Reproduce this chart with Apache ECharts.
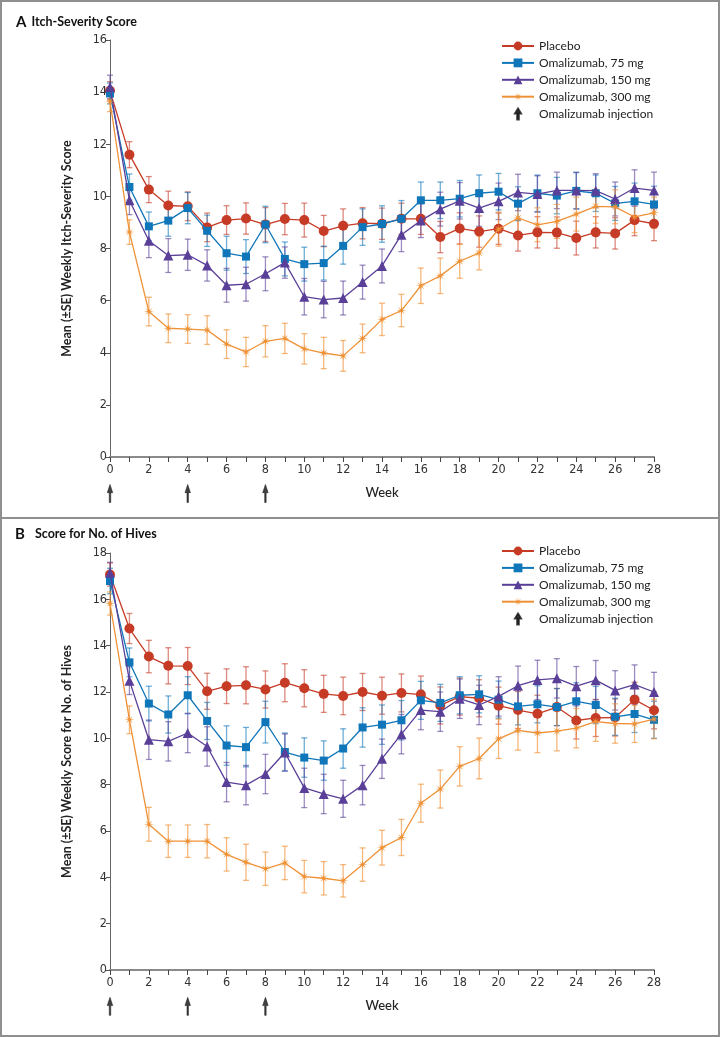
<!doctype html>
<html lang="en">
<head>
<meta charset="UTF-8">
<title>Omalizumab weekly scores</title>
<script src="https://cdn.jsdelivr.net/npm/echarts@6/dist/echarts.min.js"></script>
<style>
  html, body { margin: 0; padding: 0; background: #fff; }
  #main { width: 720px; height: 1037px; }
</style>
</head>
<body>
<div id="main"></div>
<script type="text/javascript">
// weeks 0..28
var weeks = [0, 1, 2, 3, 4, 5, 6, 7, 8, 9, 10, 11, 12, 13, 14, 15, 16, 17, 18, 19, 20, 21, 22, 23, 24, 25, 26, 27, 28];
var injectionWeeks = [0, 4, 8];
var seriesNames = ['Placebo', 'Omalizumab, 75 mg', 'Omalizumab, 150 mg', 'Omalizumab, 300 mg'];

// A  Itch-Severity Score (mean, SE)
var itchPlacebo = [14.05, 11.6, 10.26, 9.65, 9.62, 8.81, 9.09, 9.15, 8.92, 9.13, 9.09, 8.67, 8.87, 8.97, 8.95, 9.14, 9.14, 8.44, 8.77, 8.65, 8.76, 8.50, 8.62, 8.61, 8.40, 8.62, 8.58, 9.09, 8.95];
var itch75 = [13.95, 10.36, 8.85, 9.07, 9.55, 8.68, 7.82, 7.69, 8.92, 7.60, 7.40, 7.44, 8.10, 8.82, 8.94, 9.14, 9.85, 9.85, 9.91, 10.12, 10.18, 9.72, 10.12, 10.03, 10.21, 10.12, 9.73, 9.81, 9.69];
var itch150 = [14.2, 9.85, 8.30, 7.73, 7.76, 7.35, 6.59, 6.63, 7.03, 7.46, 6.15, 6.04, 6.10, 6.71, 7.33, 8.53, 9.07, 9.51, 9.83, 9.55, 9.81, 10.15, 10.09, 10.23, 10.23, 10.22, 9.90, 10.32, 10.23];
var itch300 = [13.65, 8.63, 5.58, 4.94, 4.91, 4.87, 4.33, 4.03, 4.44, 4.55, 4.15, 3.99, 3.88, 4.55, 5.28, 5.62, 6.57, 6.95, 7.51, 7.83, 8.74, 9.17, 8.91, 9.04, 9.32, 9.62, 9.60, 9.21, 9.37];
var itchPlaceboSE = [0.35, 0.5, 0.5, 0.55, 0.55, 0.55, 0.55, 0.6, 0.65, 0.6, 0.65, 0.6, 0.65, 0.6, 0.6, 0.6, 0.6, 0.6, 0.6, 0.6, 0.6, 0.6, 0.6, 0.6, 0.65, 0.6, 0.6, 0.6, 0.65];
var itch75SE = [0.4, 0.5, 0.55, 0.6, 0.6, 0.6, 0.65, 0.65, 0.7, 0.65, 0.65, 0.65, 0.7, 0.7, 0.7, 0.7, 0.7, 0.7, 0.7, 0.7, 0.7, 0.65, 0.7, 0.7, 0.7, 0.7, 0.65, 0.7, 0.7];
var itch150SE = [0.45, 0.55, 0.65, 0.65, 0.6, 0.6, 0.65, 0.65, 0.65, 0.6, 0.7, 0.7, 0.65, 0.65, 0.65, 0.65, 0.65, 0.65, 0.7, 0.7, 0.7, 0.7, 0.7, 0.7, 0.7, 0.65, 0.65, 0.7, 0.7];
var itch300SE = [0.4, 0.47, 0.55, 0.55, 0.55, 0.55, 0.55, 0.56, 0.6, 0.58, 0.58, 0.6, 0.59, 0.55, 0.62, 0.62, 0.68, 0.68, 0.65, 0.65, 0.65, 0.65, 0.65, 0.65, 0.65, 0.65, 0.65, 0.6, 0.6];

// B  Score for No. of Hives (mean, SE)
var hivesPlacebo = [17.07, 14.74, 13.53, 13.13, 13.12, 12.03, 12.25, 12.29, 12.11, 12.40, 12.16, 11.92, 11.83, 12.0, 11.84, 11.96, 11.89, 11.42, 11.80, 11.73, 11.41, 11.22, 11.06, 11.35, 10.77, 10.88, 10.90, 11.67, 11.21];
var hives75 = [16.79, 13.28, 11.50, 11.03, 11.86, 10.75, 9.69, 9.62, 10.70, 9.41, 9.17, 9.04, 9.56, 10.47, 10.59, 10.78, 11.64, 11.53, 11.86, 11.90, 11.67, 11.38, 11.47, 11.35, 11.60, 11.44, 10.93, 11.05, 10.80];
var hives150 = [17.15, 12.49, 9.94, 9.87, 10.23, 9.65, 8.11, 7.98, 8.46, 9.39, 7.86, 7.60, 7.39, 7.98, 9.12, 10.18, 11.22, 11.15, 11.71, 11.44, 11.81, 12.27, 12.52, 12.59, 12.25, 12.51, 12.07, 12.32, 12.00];
var hives300 = [15.82, 10.80, 6.29, 5.56, 5.56, 5.56, 4.99, 4.65, 4.37, 4.62, 4.03, 3.96, 3.85, 4.55, 5.28, 5.72, 7.20, 7.81, 8.79, 9.13, 9.98, 10.34, 10.23, 10.31, 10.44, 10.72, 10.64, 10.62, 10.83];
var hivesPlaceboSE = [0.5, 0.65, 0.7, 0.78, 0.8, 0.78, 0.75, 0.8, 0.8, 0.82, 0.8, 0.8, 0.81, 0.8, 0.8, 0.82, 0.8, 0.8, 0.8, 0.8, 0.8, 0.8, 0.8, 0.8, 0.8, 0.8, 0.8, 0.75, 0.8];
var hives75SE = [0.55, 0.62, 0.75, 0.8, 0.8, 0.8, 0.85, 0.85, 0.9, 0.82, 0.85, 0.85, 0.85, 0.85, 0.85, 0.85, 0.82, 0.8, 0.8, 0.8, 0.8, 0.8, 0.8, 0.8, 0.8, 0.8, 0.8, 0.8, 0.8];
var hives150SE = [0.45, 0.6, 0.85, 0.85, 0.85, 0.85, 0.85, 0.85, 0.85, 0.8, 0.85, 0.85, 0.8, 0.85, 0.85, 0.85, 0.85, 0.85, 0.85, 0.85, 0.85, 0.85, 0.85, 0.85, 0.85, 0.85, 0.85, 0.85, 0.85];
var hives300SE = [0.5, 0.6, 0.73, 0.7, 0.7, 0.72, 0.72, 0.78, 0.72, 0.72, 0.7, 0.72, 0.7, 0.72, 0.75, 0.78, 0.82, 0.82, 0.85, 0.88, 0.85, 0.85, 0.85, 0.85, 0.85, 0.85, 0.85, 0.8, 0.85];

var colors = ['#c63b26', '#0f76ba', '#5a3f98', '#ef9237'];
var barColors = ['rgba(198,59,38,0.6)', 'rgba(15,118,186,0.6)', 'rgba(90,63,152,0.6)', 'rgba(239,146,55,0.65)'];

// asterisk marker
function starPath() {
    var p = 'path://';
    for (var i = 0; i < 16; i++) {
        var r = (i % 2 == 0) ? 10 : 2.6;
        var a = Math.PI / 8 * i - Math.PI / 2;
        p += (i == 0 ? 'M' : 'L') + (10 + r * Math.cos(a)).toFixed(2) + ',' + (10 + r * Math.sin(a)).toFixed(2) + ' ';
    }
    return p + 'Z';
}
var arrowPath = 'path://M6,0 L12,10 L7.6,10 L7.6,22 L4.4,22 L4.4,10 L0,10 Z';
var symbols = ['circle', 'rect', 'triangle', starPath()];
var symbolSizes = [10, 8, 10, 10];

var font = "'Lato', 'Open Sans', sans-serif";
var tickFont = "'Liberation Sans Narrow', 'DejaVu Sans Condensed', 'Roboto Condensed', sans-serif";

function errRender(gridColor) {
    return function (params, api) {
        var x = api.value(0), lo = api.value(1), hi = api.value(2);
        var p1 = api.coord([x, lo]), p2 = api.coord([x, hi]);
        var w = 3;
        var st = { stroke: gridColor, lineWidth: 1.3 };
        return {
            type: 'group',
            children: [
                { type: 'line', shape: { x1: p1[0], y1: p1[1], x2: p2[0], y2: p2[1] }, style: st },
                { type: 'line', shape: { x1: p1[0] - w, y1: p1[1], x2: p1[0] + w, y2: p1[1] }, style: st },
                { type: 'line', shape: { x1: p2[0] - w, y1: p2[1], x2: p2[0] + w, y2: p2[1] }, style: st }
            ]
        };
    };
}

function panelSeries(idx, means, ses) {
    var out = [];
    for (var s = 0; s < means.length; s++) {
        var errData = [];
        for (var i = 0; i < weeks.length; i++) {
            errData.push([weeks[i], means[s][i] - ses[s][i], means[s][i] + ses[s][i]]);
        }
        out.push({
            type: 'custom',
            xAxisIndex: idx, yAxisIndex: idx,
            renderItem: errRender(barColors[s]),
            data: errData,
            z: 1,
            silent: true
        });
    }
    for (var s = 0; s < means.length; s++) {
        var lineData = [];
        for (var i = 0; i < weeks.length; i++) lineData.push([weeks[i], means[s][i]]);
        out.push({
            name: seriesNames[s],
            type: 'line',
            xAxisIndex: idx, yAxisIndex: idx,
            data: lineData,
            symbol: symbols[s],
            symbolSize: symbolSizes[s],
            showAllSymbol: true,
            color: colors[s],
            lineStyle: { color: colors[s], width: 1.3 },
            itemStyle: { color: colors[s], borderWidth: 0 },
            z: 3 + s,
            animation: false
        });
    }
    return out;
}

function arrowSeries(idx, yPos) {
    var d = [];
    for (var i = 0; i < injectionWeeks.length; i++) d.push([injectionWeeks[i], yPos]);
    return {
        name: 'Omalizumab injection',
        type: 'scatter',
        xAxisIndex: idx, yAxisIndex: idx,
        data: d,
        symbol: arrowPath,
        symbolSize: [10, 18],
        symbolKeepAspect: true,
        clip: false,
        color: '#111',
        itemStyle: { color: '#111', borderColor: '#111', borderWidth: 0.6 },
        silent: true
    };
}

function xAxisOpt(idx) {
    return {
        type: 'value', gridIndex: idx, min: 0, max: 28, interval: 2,
        name: 'Week', nameLocation: 'middle', nameGap: 29,
        nameTextStyle: { fontFamily: font, fontSize: 13, color: '#222', fontWeight: 500 },
        axisLine: { lineStyle: { color: '#8a8a8a', width: 2 } },
        axisTick: { length: 5, lineStyle: { color: '#444', width: 1 } },
        minorTick: { show: true, splitNumber: 2, length: 5, lineStyle: { color: '#444', width: 1 } },
        axisLabel: { fontFamily: tickFont, fontSize: 12.5, color: '#333', margin: 6 },
        splitLine: { show: false }
    };
}

function yAxisOpt(idx, max, name) {
    return {
        type: 'value', gridIndex: idx, min: 0, max: max, interval: 2,
        name: name, nameLocation: 'middle', nameGap: 37,
        nameTextStyle: { fontFamily: font, fontSize: 12.5, fontWeight: 'bold', color: '#222' },
        axisLine: { show: true, lineStyle: { color: '#666', width: 1 } },
        axisTick: { show: true, length: 4, lineStyle: { color: '#555' } },
        axisLabel: { fontFamily: tickFont, fontSize: 12.5, color: '#333', margin: 3 },
        splitLine: { show: false }
    };
}

function legendOpt(top) {
    return {
        orient: 'vertical', left: 496, top: top,
        itemWidth: 32, itemHeight: 11, itemGap: 4.9,
        textStyle: { fontFamily: font, fontSize: 12, color: '#222' },
        data: seriesNames.concat(['Omalizumab injection']),
        selectedMode: false
    };
}

var myChart = echarts.init(document.getElementById('main'), null, { renderer: 'canvas' });

var titleRich = {
    a: { fontFamily: font, fontSize: 15, fontWeight: 'bold', color: '#111' },
    b: { fontFamily: font, fontSize: 12.5, fontWeight: 'bold', color: '#111' },
    g: { width: 5 }
};

var option = {
    backgroundColor: '#fff',
    animation: false,
    title: [
        { left: 11, top: 8, text: '{a|A}{g|}{b|Itch-Severity Score}', textStyle: { rich: titleRich } },
        { left: 10, top: 520, text: '{a|B}{g|}{g|}{b|Score for No. of Hives}', textStyle: { rich: titleRich } }
    ],
    legend: [legendOpt(35), legendOpt(540)],
    grid: [
        { left: 110, top: 40, width: 544, height: 417 },
        { left: 110, top: 553, width: 544, height: 417 }
    ],
    xAxis: [xAxisOpt(0), xAxisOpt(1)],
    yAxis: [
        yAxisOpt(0, 16, 'Mean (\u00b1SE) Weekly Itch-Severity Score'),
        yAxisOpt(1, 18, 'Mean (\u00b1SE) Weekly Score for No. of Hives')
    ],
    graphic: [
        { type: 'rect', shape: { x: 1, y: 1, width: 718, height: 1035 }, style: { fill: 'none', stroke: '#8f8f8f', lineWidth: 2 }, silent: true },
        { type: 'line', shape: { x1: 0, y1: 518, x2: 720, y2: 518 }, style: { stroke: '#8f8f8f', lineWidth: 2 }, silent: true }
    ],
    series: []
        .concat(panelSeries(0, [itchPlacebo, itch75, itch150, itch300], [itchPlaceboSE, itch75SE, itch150SE, itch300SE]))
        .concat([arrowSeries(0, -1.4)])
        .concat(panelSeries(1, [hivesPlacebo, hives75, hives150, hives300], [hivesPlaceboSE, hives75SE, hives150SE, hives300SE]))
        .concat([arrowSeries(1, -1.57)])
};

myChart.setOption(option);
</script>
</body>
</html>
